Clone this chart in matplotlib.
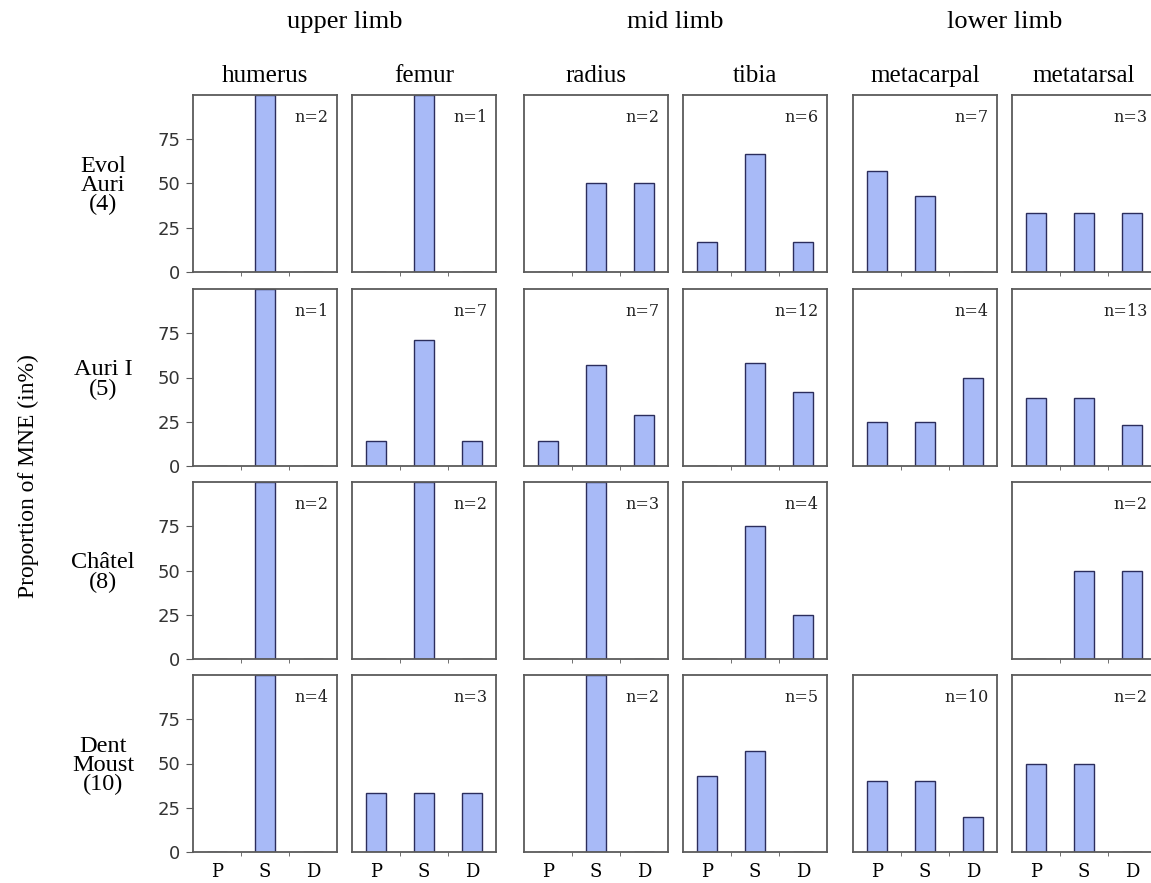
import numpy as np
import matplotlib
matplotlib.use("Agg")
import matplotlib.pyplot as plt

# categories / labels
groups = ["upper limb", "mid limb", "lower limb"]
bones = ["humerus", "femur", "radius", "tibia", "metacarpal", "metatarsal"]
sites = ["Evol\nAuri\n(4)", "Auri I\n(5)", "Châtel\n(8)", "Dent\nMoust\n(10)"]
parts = ["P", "S", "D"]

# proportions of MNE (%) per site, per bone: [P, S, D]; None = no panel
evol_auri = [[0, 100, 0], [0, 100, 0], [0, 50, 50],
             [16.7, 66.7, 16.7], [57.1, 42.9, 0], [33.3, 33.3, 33.3]]
auri_1 = [[0, 100, 0], [14.3, 71.4, 14.3], [14.3, 57.1, 28.6],
          [0, 58.3, 41.7], [25, 25, 50], [38.5, 38.5, 23.1]]
chatel = [[0, 100, 0], [0, 100, 0], [0, 100, 0],
          [0, 75, 25], None, [0, 50, 50]]
dent_moust = [[0, 100, 0], [33.3, 33.3, 33.3], [0, 100, 0],
              [42.9, 57.1, 0], [40, 40, 20], [50, 50, 0]]
values = [evol_auri, auri_1, chatel, dent_moust]

# sample sizes
n_evol_auri = [2, 1, 2, 6, 7, 3]
n_auri_1 = [1, 7, 7, 12, 4, 13]
n_chatel = [2, 2, 3, 4, None, 2]
n_dent_moust = [4, 3, 2, 5, 10, 2]
counts = [n_evol_auri, n_auri_1, n_chatel, n_dent_moust]

W, H = 1151, 883
fig = plt.figure(figsize=(W / 100, H / 100), dpi=100)

# panel grid in pixels (right column runs past the edge, as in the source)
col_left = [193, 352, 524, 683, 853, 1012]
row_bottom = [272, 466, 659, 852]
pw, ph = 144, 177

serif = "Liberation Serif"
bar_face = "#a8baf7"
bar_edge = "#2b2d5c"
spine_col = "#5a5a5a"

for r in range(4):
    for c in range(6):
        vals = values[r][c]
        if vals is None:
            continue
        ax = fig.add_axes([col_left[c] / W, 1 - row_bottom[r] / H, pw / W, ph / H])
        x = np.arange(1, 4)
        ax.bar(x, vals, width=0.42, color=bar_face, edgecolor=bar_edge, linewidth=1.0)
        ax.set_xlim(0.5, 3.5)
        ax.set_ylim(0, 100)
        for s in ax.spines.values():
            s.set_color(spine_col)
            s.set_linewidth(1.3)
        ax.set_xticks(x)
        ax.set_xticks([1.5, 2.5], minor=True)
        ax.tick_params(axis="x", which="major", length=0, pad=8)
        ax.tick_params(axis="x", which="minor", length=3, color=spine_col, direction="out")
        if r == 3:
            ax.set_xticklabels(parts, family="DejaVu Serif", fontsize=13)
        else:
            ax.set_xticklabels([])
        if c == 0:
            ax.set_yticks([0, 25, 50, 75])
            ax.tick_params(axis="y", length=5, color=spine_col, labelsize=13, pad=4)
            for lab in ax.get_yticklabels():
                lab.set_color("#333333")
        else:
            ax.set_yticks([])
        ax.text(0.94, 0.875, f"n={counts[r][c]}", transform=ax.transAxes,
                ha="right", va="center", family="DejaVu Serif", fontsize=11.5,
                color="#222222")
        if r == 0:
            ax.set_title(bones[c], family=serif, fontsize=18, pad=9)

# row labels
for r in range(4):
    yc = row_bottom[r] - ph / 2
    fig.text(103 / W, 1 - (yc + 2) / H, sites[r], ha="center", va="center",
             family=serif, fontsize=17.5, linespacing=0.88)

# group titles
for g in range(3):
    xc = (col_left[2 * g] + col_left[2 * g + 1] + pw) / 2
    fig.text(xc / W, 1 - 22 / H, groups[g], ha="center", va="center",
             family=serif, fontsize=19)

fig.text(28 / W, 1 - 476 / H, "Proportion of MNE (in%)", rotation=90,
         ha="center", va="center", family=serif, fontsize=17)

fig.savefig("out.png", dpi=100)
